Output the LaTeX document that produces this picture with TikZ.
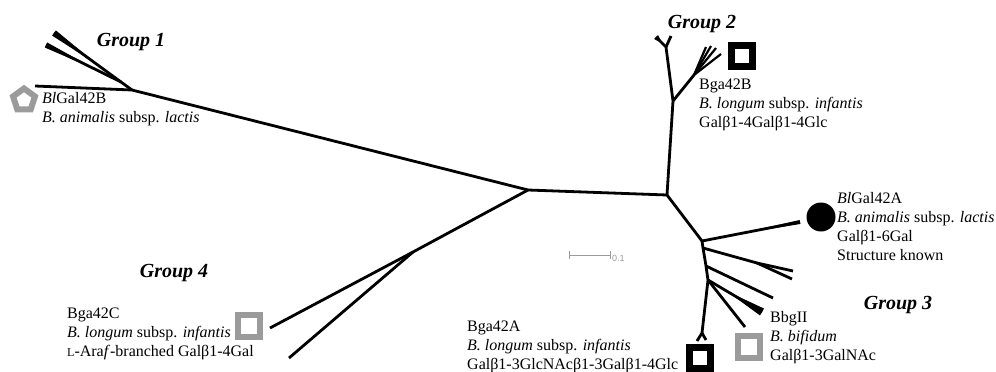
\documentclass[tikz,border=0pt]{standalone}
\usepackage{fontspec}
\setmainfont{Liberation Serif}
\newfontfamily\barfont{Liberation Sans}
\usetikzlibrary{calc,shapes.geometric}
\definecolor{markgray}{RGB}{155,155,155}
\newcommand{\clade}[3]{\fill ($(#1)!0.35!(#2)$) -- ($(#2)!#3!90:(#1)$) -- ($(#2)!#3!-90:(#1)$) -- cycle;}

\begin{document}
\begin{tikzpicture}[x=1pt,y=-1pt,
  branch/.style={line width=2.8pt,line join=round},
  grouplabel/.style={font=\fontsize{20}{24}\selectfont\bfseries\itshape},
  info/.style={anchor=north west,align=left,inner sep=0pt,font=\fontsize{16}{19}\selectfont},
  openbox/.style={draw,rectangle,minimum size=21pt,inner sep=0pt,line width=7pt},
]
\useasboundingbox (0,0) rectangle (996,372);

% inner nodes
\coordinate (c1) at (528,190);
\coordinate (c2) at (667,195);

% group 1
\coordinate (j1) at (132,90);
\coordinate (j1b) at (121,82);
\coordinate (t1a) at (35,86);
\coordinate (t1b) at (54,33);
\coordinate (t1c) at (46,45);
\draw[branch] (c1) -- (j1) -- (t1a);
\draw[branch] (j1) -- (j1b) -- (t1b);
\draw[branch] (j1b) -- (t1c);
\clade{j1b}{t1b}{3.2pt}
\clade{j1b}{t1c}{2.8pt}

% group 2
\coordinate (j2) at (673,101);
\coordinate (y2) at (666,47);
\coordinate (t2a) at (656,37);
\coordinate (t2b) at (671,36);
\coordinate (f2) at (694,75);
\coordinate (t2c) at (706,47);
\coordinate (t2d) at (711,46);
\coordinate (t2e) at (716,48);
\coordinate (t2f) at (721,54);
\draw[branch] (c1) -- (c2) -- (j2) -- (y2) -- (t2a);
\draw[branch] (y2) -- (t2b);
\clade{y2}{t2a}{2.8pt}
\draw[branch] (j2) -- (f2);
\foreach \t in {t2c,t2d,t2e,t2f}
  \draw[line width=2.2pt] (f2) -- (\t);

% group 3
\coordinate (j3) at (702,241);
\coordinate (t3a) at (800,222);
\coordinate (s1) at (703,248);
\coordinate (k1) at (757,263);
\coordinate (t3b) at (793,271);
\coordinate (t3c) at (792,279);
\coordinate (s2) at (706,266);
\coordinate (t3d) at (773,298);
\coordinate (s3) at (708,280);
\coordinate (t3e) at (762,312);
\coordinate (t3f) at (745,327);
\coordinate (y3) at (702,333);
\coordinate (t3g) at (697,341);
\coordinate (t3h) at (706,340);
\draw[branch] (c2) -- (j3) -- (s1) -- (s2) -- (s3) -- (y3) -- (t3g);
\draw[branch] (y3) -- (t3h);
\draw[branch] (j3) -- (t3a);
\clade{j3}{t3a}{2pt}
\draw[branch] (s1) -- (k1) -- (t3b);
\draw[branch] (k1) -- (t3c);
\draw[branch] (s2) -- (t3d);
\draw[branch] (s3) -- (t3e);
\clade{s3}{t3e}{4pt}
\draw[branch] (s3) -- (t3f);

% group 4
\coordinate (j4) at (413,252);
\coordinate (t4a) at (270,328);
\coordinate (t4b) at (289,358);
\draw[branch] (c1) -- (j4) -- (t4a);
\draw[branch] (j4) -- (t4b);

% markers
\node[draw=markgray,regular polygon,regular polygon sides=5,minimum size=23pt,inner sep=0pt,line width=6pt] (pentB) at (24,100) {};
\node[openbox] (boxB) at (742,56) {};
\node[openbox] (boxA) at (700,358) {};
\node[openbox,draw=markgray,line width=6pt,minimum size=22pt] (boxII) at (749,347) {};
\node[openbox,draw=markgray,line width=6pt,minimum size=22pt] (boxC) at (249,326) {};
\node[circle,fill=black,minimum size=29pt,inner sep=0pt] (dotA) at (821,217) {};

% labels
\node[grouplabel] (g1) at (131,42) {Group 1};
\node[grouplabel] (g2) at (702,24) {Group 2};
\node[grouplabel] (g3) at (898,305) {Group 3};
\node[grouplabel] (g4) at (174,273) {Group 4};

\node[info] (infoB) at (42,92.5) {\textit{Bl}Gal42B\\\textit{B. animalis} subsp. \textit{lactis}};
\node[info] (info42B) at (699,78.5) {Bga42B\\\textit{B. longum} subsp. \textit{infantis}\\Galβ1-4Galβ1-4Glc};
\node[info] (infoA) at (837,192.5) {\textit{Bl}Gal42A\\\textit{B. animalis} subsp. \textit{lactis}\\Galβ1-6Gal\\Structure known};
\node[info] (infoII) at (770,311.5) {BbgII\\\textit{B. bifidum}\\Galβ1-3GalNAc};
\node[info] (info42A) at (467,320.5) {Bga42A\\\textit{B. longum} subsp. \textit{infantis}\\Galβ1-3GlcNAcβ1-3Galβ1-4Glc};
\node[info] (info42C) at (67,307.5) {Bga42C\\\textit{B. longum} subsp. \textit{infantis}\\{\fontsize{12}{12}\selectfont L}-Ara\textit{f}-branched Galβ1-4Gal};

% scale bar
\coordinate (sb0) at (569,255);
\coordinate (sb1) at (610,255);
\draw[markgray,line width=1pt] (sb0) -- (sb1);
\draw[markgray,line width=1pt] ($(sb0)+(0,-4)$) -- ($(sb0)+(0,4)$);
\draw[markgray,line width=1pt] ($(sb1)+(0,-4)$) -- ($(sb1)+(0,4)$);
\node[markgray,anchor=west,inner sep=1pt,font=\barfont\fontsize{9}{9}\selectfont] (sbl) at ($(sb1)+(1,3)$) {0.1};
\end{tikzpicture}
\end{document}
